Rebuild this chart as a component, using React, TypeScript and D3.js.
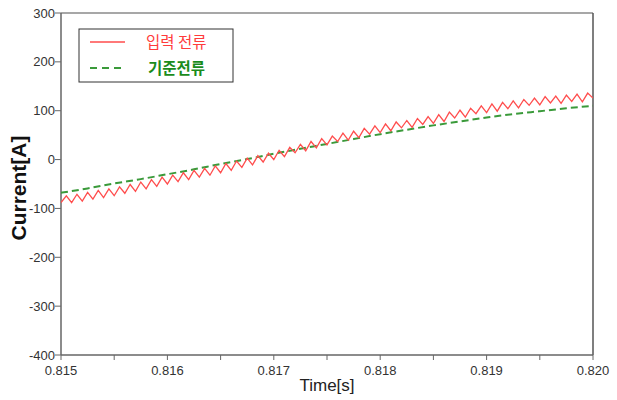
import React from "react";
import * as d3 from "d3";

// Inverter current over a 5 ms window: measured current (with 10 kHz switching ripple)
// against the reference current command.
const SAMPLE_STEP = 0.00005; // s between ripple vertices
const T_START = 0.815;

const inputCurrent: number[] = [
  -88, -74, -88, -71, -85, -67, -81, -63, -78, -60,
  -74, -56, -69, -51, -65, -46, -60, -41, -55, -36,
  -50, -32, -45, -27, -41, -22, -36, -18, -32, -13,
  -27, -8, -22, -3, -16, 3, -11, 8, -5, 13,
  0, 19, 6, 25, 14, 31, 18, 37, 24, 43,
  30, 48, 37, 54, 40, 58, 45, 64, 52, 69,
  55, 73, 59, 77, 65, 80, 66, 84, 72, 88,
  74, 92, 78, 97, 85, 101, 87, 105, 94, 110,
  96, 114, 99, 117, 104, 120, 106, 123, 111, 126,
  112, 129, 116, 130, 115, 132, 119, 134, 118, 136,
  126,
];

const refTime: number[] = [
  0.815, 0.81525, 0.8155, 0.81575, 0.816, 0.81625, 0.8165, 0.81675, 0.817, 0.81725,
  0.8175, 0.81775, 0.818, 0.81825, 0.8185, 0.81875, 0.819, 0.81925, 0.8195, 0.81975, 0.82,
];
const refCurrent: number[] = [
  -68, -59, -49, -40, -30, -20, -9, 1, 12, 22,
  32, 42, 52, 61, 70, 78, 86, 93, 99, 105, 110,
];

const xTickLabels = ["0.815", "0.816", "0.817", "0.818", "0.819", "0.820"];
const yTickValues = [300, 200, 100, 0, -100, -200, -300, -400];
const legendLabels = ["입력 전류", "기준전류"];

const W = 617;
const H = 400;
const M = { left: 61, right: 24, top: 13, bottom: 45 };

export default function App() {
  const x = d3.scaleLinear().domain([0.815, 0.82]).range([M.left, W - M.right]);
  const y = d3.scaleLinear().domain([-400, 300]).range([H - M.bottom, M.top]);

  const inputPts: [number, number][] = inputCurrent.map((v, i) => [T_START + i * SAMPLE_STEP, v]);
  const refPts: [number, number][] = refTime.map((t, i) => [t, refCurrent[i]]);

  const line = d3
    .line<[number, number]>()
    .x((d) => x(d[0]))
    .y((d) => y(d[1]))
    .curve(d3.curveLinear);
  const smooth = d3
    .line<[number, number]>()
    .x((d) => x(d[0]))
    .y((d) => y(d[1]))
    .curve(d3.curveMonotoneX);

  const minorTicks = d3.range(0, 11).map((i) => 0.815 + i * 0.0005);
  const x0 = M.left;
  const x1 = W - M.right;
  const y0 = H - M.bottom;
  const y1 = M.top;
  const tickFont = "'Liberation Sans', Arial, sans-serif";

  return (
    <svg
      width={W}
      height={H}
      style={{ position: "absolute", left: 0, top: 0, background: "#fff" }}
      xmlns="http://www.w3.org/2000/svg"
    >
      <rect x={0} y={0} width={W} height={H} fill="#fff" />
      <defs>
        <clipPath id="plot-clip">
          <rect x={x0} y={y1} width={x1 - x0} height={y0 - y1} />
        </clipPath>
      </defs>

      {/* plot frame */}
      <line x1={x0} x2={x1} y1={y1} y2={y1} stroke="#8a8a8a" strokeWidth={1.5} />
      <line x1={x1} x2={x1} y1={y1} y2={y0} stroke="#555" strokeWidth={1.5} />
      <line x1={x0} x2={x0} y1={y1} y2={y0} stroke="#666" strokeWidth={1.5} />
      <line x1={x0} x2={x1} y1={y0} y2={y0} stroke="#666" strokeWidth={1.5} />

      {/* series */}
      <g clipPath="url(#plot-clip)">
        <path
          d={smooth(refPts) ?? ""}
          fill="none"
          stroke="#3a9a3a"
          strokeWidth={2}
          strokeDasharray="7,4"
        />
        <path d={line(inputPts) ?? ""} fill="none" stroke="#ff4d4d" strokeWidth={1.3} strokeLinejoin="miter" />
      </g>

      {/* y axis */}
      {yTickValues.map((v) => (
        <g key={v}>
          <line x1={x0 - 6} x2={x0} y1={y(v)} y2={y(v)} stroke="#666" strokeWidth={1} />
          <text
            x={x0 - 6}
            y={y(v)}
            dy="0.35em"
            textAnchor="end"
            fontFamily={tickFont}
            fontSize={13}
            fill="#333"
          >
            {v}
          </text>
        </g>
      ))}

      {/* x axis */}
      {minorTicks.map((t, i) => (
        <line key={i} x1={x(t)} x2={x(t)} y1={y0} y2={y0 + 5} stroke="#666" strokeWidth={1} />
      ))}
      {xTickLabels.map((lab) => (
        <text
          key={lab}
          x={x(+lab)}
          y={y0 + 20}
          textAnchor="middle"
          fontFamily={tickFont}
          fontSize={13}
          fill="#333"
        >
          {lab}
        </text>
      ))}

      {/* axis titles */}
      <text
        x={(x0 + x1) / 2}
        y={391}
        textAnchor="middle"
        fontFamily={tickFont}
        fontSize={17}
        fill="#222"
      >
        Time[s]
      </text>
      <text
        transform={`translate(26, 188) rotate(-90)`}
        textAnchor="middle"
        fontFamily={tickFont}
        fontSize={21}
        fontWeight="bold"
        fill="#111"
      >
        Current[A]
      </text>

      {/* legend */}
      <g>
        <rect x={79} y={29} width={154} height={53} fill="#fff" stroke="#333" strokeWidth={1} />
        <line x1={90} x2={125} y1={42} y2={42} stroke="#ff4d4d" strokeWidth={1.3} />
        <text
          x={146}
          y={47.5}
          fontFamily="'Noto Sans CJK KR', sans-serif"
          fontSize={15.5}
          fill="#ff3b3b"
        >
          {legendLabels[0]}
        </text>
        <line x1={90} x2={125} y1={68} y2={68} stroke="#3a9a3a" strokeWidth={2} strokeDasharray="7,5" />
        <text
          x={148}
          y={73.5}
          fontFamily="'Noto Sans CJK KR', sans-serif"
          fontSize={15.5}
          fontWeight="bold"
          fill="#1b8c1b"
        >
          {legendLabels[1]}
        </text>
      </g>
    </svg>
  );
}
